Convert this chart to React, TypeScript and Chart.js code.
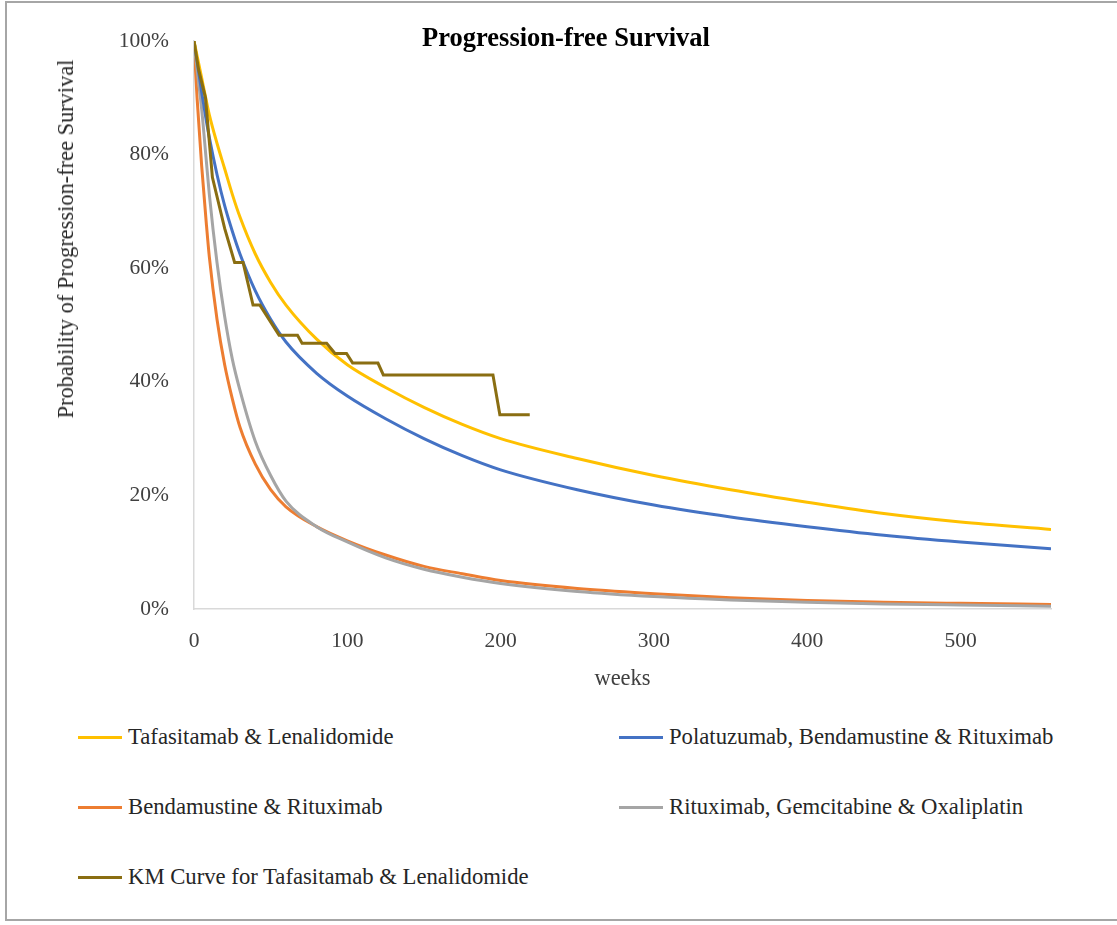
import React, { useEffect, useRef } from "react";
import { Chart, registerables } from "chart.js";

Chart.register(...registerables);

const FONT = "'Liberation Serif', 'Times New Roman', serif";

const chartTitle = "Progression-free Survival";
const xTitle = "weeks";
const yTitle = "Probability of Progression-free Survival";
const yTicks = [0, 20, 40, 60, 80, 100];
const xTicks = [0, 100, 200, 300, 400, 500];

const weeks = [0, 2, 5, 8, 10, 15, 20, 25, 30, 40, 50, 60, 80, 100, 125, 150, 175, 200, 250, 300, 350, 400, 450, 500, 559];

const tafLen = [100, 97.4, 93.5, 89.5, 87, 82, 77.5, 73, 69, 62.5, 57.5, 53.5, 47.5, 43, 39, 35.5, 32.5, 30, 26.5, 23.5, 21, 18.8, 16.8, 15.3, 14];
const polaBR = [100, 96.5, 91, 86, 83, 76.5, 71, 66.5, 62.5, 56, 51, 47, 41.5, 37.5, 33.5, 30, 27, 24.5, 21, 18.3, 16.2, 14.5, 13, 11.8, 10.6];
const bendaR = [100, 90, 78, 68, 62, 51, 43, 37, 32, 25.5, 21, 18, 14.5, 12, 9.5, 7.5, 6.2, 5, 3.6, 2.7, 2, 1.5, 1.2, 1, 0.8];
const rGemOx = [100, 95, 88, 79, 73, 61, 51.5, 44, 38.5, 29.5, 23.5, 19, 14.5, 11.8, 9, 7, 5.6, 4.5, 3.1, 2.2, 1.6, 1.2, 0.9, 0.7, 0.5];

const kmWeeks = [0, 3, 7.5, 12, 20, 26.5, 32, 38.5, 43, 55.5, 67.5, 70.5, 86.5, 92, 99.5, 103.5, 120, 123.5, 195, 199.5, 219];
const kmValues = [100, 95, 90, 76, 67, 61, 61, 53.5, 53.5, 48.2, 48.2, 46.8, 46.8, 45, 45, 43.3, 43.3, 41.2, 41.2, 34.2, 34.2];

const seriesLabels = [
  "Tafasitamab & Lenalidomide",
  "Polatuzumab, Bendamustine & Rituximab",
  "Bendamustine & Rituximab",
  "Rituximab, Gemcitabine & Oxaliplatin",
  "KM Curve for Tafasitamab & Lenalidomide",
];
const seriesColors = ["#FFC000", "#4472C4", "#ED7D31", "#A5A5A5", "#8A6E12"];

const toPoints = (xs: number[], ys: number[]) => xs.map((x, i) => ({ x, y: ys[i] }));

export default function App() {
  const canvasRef = useRef<HTMLCanvasElement | null>(null);

  useEffect(() => {
    if (!canvasRef.current) return;
    const smooth = { pointRadius: 0, borderWidth: 3, cubicInterpolationMode: "monotone" as const, tension: 0.4, fill: false };
    const chart = new Chart(canvasRef.current, {
      type: "line",
      data: {
        datasets: [
          { label: seriesLabels[4], data: toPoints(kmWeeks, kmValues), borderColor: seriesColors[4], backgroundColor: seriesColors[4], pointRadius: 0, borderWidth: 3, tension: 0, fill: false, order: 0 },
          { label: seriesLabels[0], data: toPoints(weeks, tafLen), borderColor: seriesColors[0], backgroundColor: seriesColors[0], ...smooth, order: 1 },
          { label: seriesLabels[1], data: toPoints(weeks, polaBR), borderColor: seriesColors[1], backgroundColor: seriesColors[1], ...smooth, order: 2 },
          { label: seriesLabels[3], data: toPoints(weeks, rGemOx), borderColor: seriesColors[3], backgroundColor: seriesColors[3], ...smooth, order: 3 },
          { label: seriesLabels[2], data: toPoints(weeks, bendaR), borderColor: seriesColors[2], backgroundColor: seriesColors[2], ...smooth, order: 4 },
        ],
      },
      options: {
        responsive: false,
        animation: false,
        layout: { padding: { left: 0, right: 66, top: 41, bottom: 0 } },
        plugins: { legend: { display: false }, title: { display: false }, tooltip: { enabled: false } },
        scales: {
          x: {
            type: "linear",
            min: 0,
            max: 559,
            afterFit: (s: any) => { s.height = 91; },
            grid: { display: false, drawTicks: false },
            border: { display: true, color: "#D9D9D9", width: 1.5 },
            afterBuildTicks: (s: any) => { s.ticks = xTicks.map((v) => ({ value: v })); },
            ticks: { autoSkip: false, maxRotation: 0, padding: 19, color: "#404040", font: { family: FONT, size: 21.5 } },
            title: { display: true, text: xTitle, color: "#404040", font: { family: FONT, size: 22.5 }, padding: { top: 0, bottom: 7 } },
          },
          y: {
            type: "linear",
            min: 0,
            max: 100,
            afterFit: (s: any) => { s.width = 194; },
            grid: { display: false, drawTicks: false },
            border: { display: true, color: "#D9D9D9", width: 1.5 },
            afterBuildTicks: (s: any) => { s.ticks = yTicks.map((v) => ({ value: v })); },
            ticks: { padding: 25, color: "#404040", font: { family: FONT, size: 21.5 }, callback: (v: any) => v + "%" },
            title: { display: false },
          },
        },
      },
    });
    return () => chart.destroy();
  }, []);

  const legendRows = [
    { idx: 0, x: 78, y: 737 },
    { idx: 1, x: 619, y: 737 },
    { idx: 2, x: 78, y: 807 },
    { idx: 3, x: 619, y: 807 },
    { idx: 4, x: 78, y: 877 },
  ];

  return (
    <div style={{ position: "absolute", left: 0, top: 0, width: 1117, height: 925, overflow: "hidden", background: "#fff", fontFamily: FONT }}>
      <div style={{ position: "absolute", left: 5, top: 1, width: 1130, height: 920, border: "2px solid #A6A6A6", boxSizing: "border-box" }} />
      <canvas ref={canvasRef} width={1117} height={700} style={{ position: "absolute", left: 0, top: 0 }} />
      <div style={{ position: "absolute", left: 266, top: 21, width: 600, textAlign: "center", fontSize: 26.5, fontWeight: "bold", color: "#000", lineHeight: "32px" }}>{chartTitle}</div>
      <div style={{ position: "absolute", left: 66, top: 239, transform: "translate(-50%, -50%) rotate(-90deg)", whiteSpace: "nowrap", fontSize: 22.4, color: "#262626", lineHeight: "26px" }}>{yTitle}</div>
      {legendRows.map((r) => (
        <div key={r.idx} style={{ position: "absolute", left: r.x, top: r.y - 15, height: 30, display: "flex", alignItems: "center", whiteSpace: "nowrap" }}>
          <div style={{ width: 44, height: 3, background: seriesColors[r.idx], marginRight: 6 }} />
          <span style={{ fontSize: 22.7, color: "#262626", lineHeight: "30px" }}>{seriesLabels[r.idx]}</span>
        </div>
      ))}
    </div>
  );
}
